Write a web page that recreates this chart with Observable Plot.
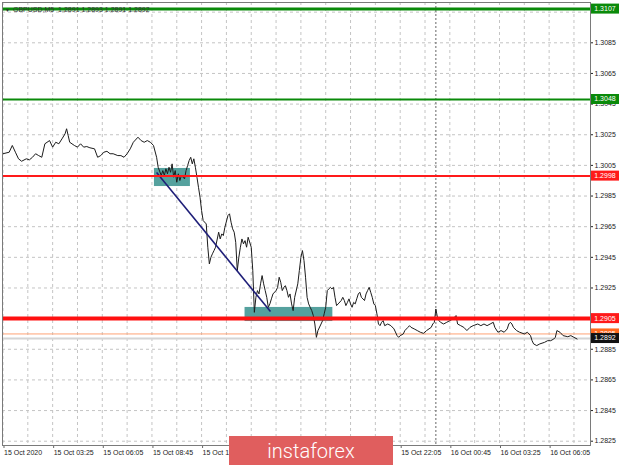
<!DOCTYPE html>
<html><head><meta charset="utf-8">
<script src="https://cdn.jsdelivr.net/npm/d3@7"></script>
<script src="https://cdn.jsdelivr.net/npm/@observablehq/plot@0.6"></script>
<style>
html,body{margin:0;padding:0;background:#fff;}
#chart{position:relative;width:620px;height:465px;overflow:hidden;}
</style></head><body><div id="chart"></div>
<script>
// ---- data (minutes after 15 Oct 2020 00:00, close price) ----
const symbolTitle = "GBPUSD,M5  1.2891 1.2893 1.2891 1.2892";
const pricesBeforeBreak = [[45,1.30126],[65,1.30136],[75,1.30180],[85,1.30136],[95,1.30093],[105,1.30077],[120,1.30093],[130,1.30086],[140,1.30103],[150,1.30126],[160,1.30114],[170,1.30103],[180,1.30191],[195,1.30212],[205,1.30169],[215,1.30201],[225,1.30191],[235,1.30223],[245,1.30256],[250,1.30289],[255,1.30245],[260,1.30201],[275,1.30180],[285,1.30169],[295,1.30191],[305,1.30169],[315,1.30173],[325,1.30165],[340,1.30158],[350,1.30103],[360,1.30114],[370,1.30136],[380,1.30142],[390,1.30126],[400,1.30126],[415,1.30114],[425,1.30114],[435,1.30103],[445,1.30126],[455,1.30158],[465,1.30201],[480,1.30234],[490,1.30212],[500,1.30201],[510,1.30212],[520,1.30201],[530,1.30180],[540,1.30103],[545,1.30038]];
const pricesBreakdown = [[555,1.29984],[560,1.30016],[565,1.29984],[570,1.30028],[575,1.29995],[580,1.30038],[585,1.30005],[590,1.30060],[595,1.29973],[600,1.30016],[605,1.29940],[610,1.29995],[615,1.29951],[620,1.29984],[630,1.29962],[635,1.30016],[640,1.30049],[645,1.30082],[650,1.30103],[655,1.30060],[660,1.30093],[665,1.30038],[670,1.29973],[675,1.29907],[680,1.29842],[685,1.29755],[690,1.29690],[700,1.29668],[705,1.29516],[710,1.29407],[715,1.29450],[720,1.29473],[725,1.29494],[730,1.29516],[740,1.29614],[745,1.29570],[750,1.29603],[755,1.29592],[760,1.29646],[770,1.29723],[775,1.29734],[780,1.29679],[785,1.29636],[790,1.29614],[795,1.29548],[800,1.29363],[805,1.29450],[810,1.29516],[815,1.29570],[820,1.29538],[825,1.29559],[830,1.29516],[835,1.29581],[845,1.29516],[850,1.29363],[855,1.29091],[860,1.29189],[865,1.29233],[870,1.29211],[875,1.29277],[880,1.29331],[885,1.29277],[890,1.29233],[895,1.29189],[900,1.29124],[905,1.29146],[910,1.29179],[915,1.29211],[925,1.29233],[930,1.29254],[935,1.29320],[940,1.29287],[945,1.29233],[950,1.29254],[955,1.29265],[960,1.29233],[965,1.29189],[970,1.29211],[975,1.29146],[980,1.29102],[985,1.29189],[995,1.29277],[1000,1.29363],[1005,1.29450],[1010,1.29494],[1015,1.29429],[1020,1.29320],[1025,1.29189],[1030,1.29146],[1035,1.29124],[1040,1.29102],[1045,1.29070],[1050,1.29015],[1055,1.28928],[1060,1.28972],[1070,1.29015],[1075,1.29037],[1080,1.29081],[1085,1.29124],[1090,1.29233],[1095,1.29244],[1100,1.29254],[1105,1.29244],[1110,1.29254],[1115,1.29189],[1120,1.29135],[1125,1.29146],[1135,1.29168],[1140,1.29189],[1145,1.29168],[1150,1.29135],[1155,1.29156],[1160,1.29179],[1165,1.29146],[1170,1.29124],[1175,1.29156],[1180,1.29146],[1185,1.29179],[1190,1.29211],[1195,1.29222],[1200,1.29189],[1210,1.29168],[1215,1.29211],[1220,1.29233],[1225,1.29254],[1230,1.29222],[1235,1.29189],[1240,1.29146],[1245,1.29135],[1250,1.29081],[1255,1.29015],[1260,1.29004]];
const pricesConsolidation = [[1265,1.29026],[1270,1.29037],[1275,1.29004],[1285,1.29015],[1295,1.29004],[1305,1.28983],[1315,1.28939],[1320,1.28928],[1325,1.28939],[1335,1.28950],[1340,1.28972],[1350,1.28993],[1355,1.29004],[1360,1.28993],[1370,1.28983],[1380,1.28972],[1390,1.28961],[1400,1.28954],[1410,1.28972],[1425,1.28993],[1430,1.29015],[1435,1.29026],[1440,1.29113],[1445,1.29058],[1450,1.29037],[1455,1.29026],[1465,1.29015],[1475,1.29026],[1485,1.29037],[1495,1.29048],[1505,1.29070],[1510,1.29015],[1520,1.29004],[1530,1.28993],[1540,1.28972],[1550,1.28993],[1560,1.29004],[1575,1.29015],[1585,1.29004],[1595,1.29015],[1605,1.29004],[1615,1.29015],[1625,1.29026],[1630,1.28993],[1640,1.28961],[1650,1.28972],[1660,1.28961],[1670,1.28983],[1675,1.29015],[1680,1.29026],[1685,1.29015],[1690,1.28993],[1700,1.28972],[1710,1.28961],[1725,1.28950],[1735,1.28961],[1740,1.28950],[1745,1.28939],[1750,1.28906],[1755,1.28885],[1765,1.28874],[1775,1.28885],[1790,1.28895],[1800,1.28906],[1810,1.28906],[1820,1.28917],[1825,1.28928],[1830,1.28972],[1840,1.28961],[1850,1.28939],[1865,1.28932],[1875,1.28939],[1885,1.28928],[1895,1.28917]];

// labels at 14:05, 16:45 and 19:25 sit under the watermark in the reference
const timeTicks = [45,205,365,525,685,845,1005,1165,1325,1485,1645,1805];
const timeLabels = ["15 Oct 2020","15 Oct 03:25","15 Oct 06:05","15 Oct 08:45","15 Oct 11:25","","","","15 Oct 22:05","16 Oct 00:45","16 Oct 03:25","16 Oct 06:05"];
const gridMinutes = [45,125,205,285,365,445,525,605,685,765,845,925,1005,1085,1165,1245,1325,1405,1485,1565,1645,1725,1805,1885];
const daySeparator = [1440];
const priceTicks = [1.2825,1.2845,1.2865,1.2885,1.2905,1.2925,1.2945,1.2965,1.2985,1.3005,1.3025,1.3045,1.3065,1.3085,1.3105];
// tick labels fully covered by the level tags in the reference
const coveredPriceTicks = [1.3105, 1.2905];
const viewMinutes = [43.4, 1938.3];
const viewPrices = [1.28222, 1.31113];

const levelPrices = [1.3107, 1.3048, 1.2998, 1.2905];
const askPrice = 1.2895;
const bidPrice = 1.2892;

const zoneStart = [533, 825];
const zoneEnd = [649, 1108];
const zoneLow = [1.29912, 1.29031];
const zoneHigh = [1.30030, 1.29123];

const trendStart = [540, 1.30003];
const trendEnd = [907, 1.29096];

// ---- build ----
const base = Date.UTC(2020, 9, 15);
const toDate = m => new Date(base + m * 60000);
const series = [...pricesBeforeBreak, ...pricesBreakdown, ...pricesConsolidation]
  .map(([m, p]) => ({date: toDate(m), price: p}));
const zones = zoneStart.map((s, i) => ({start: toDate(s), end: toDate(zoneEnd[i]), low: zoneLow[i], high: zoneHigh[i]}));
const trend = [{x1: toDate(trendStart[0]), y1: trendStart[1], x2: toDate(trendEnd[0]), y2: trendEnd[1]}];
const tickDates = timeTicks.map(toDate);
const labelFor = d => timeLabels[timeTicks.indexOf(Math.round((+d - base) / 60000))];
const priceLabel = d => coveredPriceTicks.includes(d) ? "" : d.toFixed(4);

const levelStyle = [
  {stroke: "#0a8a0a", width: 3},
  {stroke: "#0a8a0a", width: 2},
  {stroke: "#ff1a1a", width: 2},
  {stroke: "#ff1010", width: 4}
];
const gridStyle = {stroke: "#c4c4c4", strokeOpacity: 1, strokeDasharray: "3,3"};

const chart = Plot.plot({
  width: 620, height: 465,
  marginLeft: 2, marginRight: 30, marginTop: 2, marginBottom: 20,
  style: {fontFamily: "'Liberation Sans', Arial, sans-serif", fontSize: "7px", color: "#222", background: "#fff"},
  x: {type: "utc", domain: viewMinutes.map(toDate), label: null},
  y: {domain: viewPrices, label: null},
  marks: [
    Plot.gridY(priceTicks, gridStyle),
    Plot.gridX(gridMinutes.map(toDate), gridStyle),
    Plot.ruleX(daySeparator.map(toDate), {stroke: "#666", strokeDasharray: "2,2"}),
    Plot.rect(zones, {x1: "start", x2: "end", y1: "low", y2: "high", fill: "#55a19e"}),
    Plot.ruleY([askPrice], {stroke: "#ffa275", strokeWidth: 1}),
    Plot.ruleY([bidPrice], {stroke: "#d4d4d4", strokeWidth: 2}),
    Plot.line(series, {x: "date", y: "price", stroke: "#1c1c1c", strokeWidth: 1}),
    Plot.link(trend, {x1: "x1", y1: "y1", x2: "x2", y2: "y2", stroke: "#1e1e78", strokeWidth: 1.6}),
    ...levelPrices.map((p, i) => Plot.ruleY([p], {stroke: levelStyle[i].stroke, strokeWidth: levelStyle[i].width})),
    Plot.axisX(tickDates, {anchor: "bottom", tickSize: 3, tickPadding: 2, textAnchor: "start", dx: 1, tickFormat: labelFor, stroke: "#666"}),
    Plot.axisY(priceTicks, {anchor: "right", tickSize: 2, tickPadding: 2, tickFormat: priceLabel}),
    Plot.frame({stroke: "#7a7a7a"})
  ]
});
document.getElementById("chart").appendChild(chart);

// price labels on the right axis, placed with the plot's y scale
const yScale = chart.scale("y");
const svg = d3.select(chart);
const tagData = [
  ...levelPrices.map((p, i) => ({p, fill: levelStyle[i].stroke === "#0a8a0a" ? "#0a8a0a" : "#ff1a1a"})),
  {p: askPrice, fill: "#ff6a1f"},
  {p: bidPrice, fill: "#111"}
];
const tags = svg.append("g").attr("font-family", "'Liberation Sans', Arial, sans-serif").attr("font-size", "7px");
tagData.forEach(t => {
  const yy = yScale.apply(t.p);
  tags.append("rect").attr("x", 591).attr("y", yy - 5).attr("width", 28).attr("height", 10).attr("fill", t.fill);
  tags.append("text").attr("x", 605).attr("y", yy).attr("dy", "0.35em").attr("text-anchor", "middle")
    .attr("fill", "#fff").text(t.p.toFixed(4));
});

// header
const head = svg.append("g").attr("font-family", "'Liberation Sans', Arial, sans-serif").attr("font-size", "7px")
  .attr("fill", "#333").attr("text-anchor", "start");
head.append("text").attr("x", 5).attr("y", 12).attr("font-size", "5px").text("▼");
head.append("text").attr("x", 13).attr("y", 12).text(symbolTitle);

// watermark
const wm = svg.append("g");
wm.append("rect").attr("x", 229).attr("y", 436).attr("width", 164).attr("height", 29).attr("fill", "#e05e5e");
wm.append("text").attr("x", 311).attr("y", 458).attr("text-anchor", "middle")
  .attr("font-family", "Roboto, 'Liberation Sans', sans-serif").attr("font-weight", 300)
  .attr("font-size", "20px").attr("fill", "#fff").text("instaforex");
</script>
</body></html>
